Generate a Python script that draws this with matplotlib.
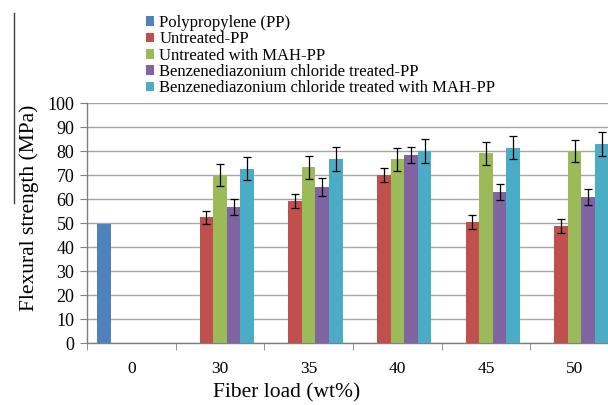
import matplotlib
matplotlib.use("Agg")
import matplotlib.pyplot as plt
import numpy as np
from matplotlib.patches import Patch
from matplotlib.lines import Line2D

categories = ["0", "30", "35", "40", "45", "50"]
series_names = ["Polypropylene (PP)", "Untreated-PP", "Untreated with MAH-PP",
                "Benzenediazonium chloride treated-PP",
                "Benzenediazonium chloride treated with MAH-PP"]
pp = [49.5, np.nan, np.nan, np.nan, np.nan, np.nan]
untreated = [np.nan, 52.3, 59.1, 70.0, 50.4, 48.6]
untreated_mah = [np.nan, 70.0, 73.2, 76.5, 79.0, 80.0]
bdc = [np.nan, 56.8, 65.0, 78.2, 62.8, 60.8]
bdc_mah = [np.nan, 72.6, 76.6, 80.0, 81.4, 83.0]
untreated_err = [0, 2.9, 2.9, 3.0, 3.0, 2.9]
untreated_mah_err = [0, 4.5, 4.7, 4.7, 4.7, 4.6]
bdc_err = [0, 3.4, 3.6, 3.4, 3.3, 3.2]
bdc_mah_err = [0, 4.7, 4.9, 4.8, 4.8, 4.9]

colors = ["#4F81BD", "#C0504D", "#9BBB59", "#8064A2", "#4BACC6"]
serif = ["Liberation Serif", "DejaVu Serif"]

fig = plt.figure(figsize=(6.08, 4.05), dpi=100)
ax = fig.add_axes([87/608, 1-343/405, 532/608, 240/405])

x = np.arange(len(categories))
w = 0.1535
vals = [pp, untreated, untreated_mah, bdc, bdc_mah]
errs = [None, untreated_err, untreated_mah_err, bdc_err, bdc_mah_err]
for i, (v, e, c) in enumerate(zip(vals, errs, colors)):
    pos = x + (i - 2) * w
    v = np.array(v, dtype=float)
    mask = ~np.isnan(v)
    ax.bar(pos[mask], v[mask], width=w, color=c, zorder=3, linewidth=0)
    if e is not None:
        ax.errorbar(pos[mask], v[mask], yerr=np.array(e)[mask], fmt="none",
                    ecolor="black", elinewidth=0.9, capsize=2.8, capthick=0.9, zorder=4)

ax.set_xlim(-0.5, 5.5)
ax.set_ylim(0, 100)
ax.set_yticks(np.arange(0, 101, 10))
ax.set_xticks(x)
ax.set_xticklabels(categories, fontfamily=serif, fontsize=12.5)
ax.set_xticks(np.arange(-0.5, 5.6, 1), minor=True)
ax.tick_params(axis="x", which="major", length=0, pad=13)
ax.tick_params(axis="x", which="minor", length=5, color="#808080", direction="out")
ax.tick_params(axis="y", length=5, color="#808080", direction="out", pad=4)
for lab in ax.get_yticklabels():
    lab.set_fontfamily(serif)
    lab.set_fontsize(13)
ax.yaxis.grid(True, color="#A6A6A6", linewidth=1.0, zorder=0)
ax.set_axisbelow(True)
for s in ["top", "right"]:
    ax.spines[s].set_visible(False)
for s in ["left", "bottom"]:
    ax.spines[s].set_color("#808080")
    ax.spines[s].set_linewidth(1.0)

fig.text(287/608, 1-393/405, "Fiber load (wt%)", ha="center", va="center",
         fontfamily=serif, fontsize=15.5)
fig.text(29/608, 1-208/405, "Flexural strength (MPa)", ha="center", va="center",
         rotation=90, fontfamily=serif, fontsize=15.5)

handles = [Patch(facecolor=c, edgecolor="none") for c in colors]
leg = fig.legend(handles, series_names, loc="upper left", bbox_to_anchor=(146/608, 1-15/405),
                 frameon=False, prop={"family": serif, "size": 12},
                 handlelength=0.5, handleheight=0.5, handletextpad=0.3,
                 labelspacing=0.02, borderpad=0, borderaxespad=0)

fig.add_artist(Line2D([13.5/608, 13.5/608], [1-13/405, 1-203/405],
                      color="#404040", linewidth=1.0, transform=fig.transFigure))

fig.savefig("out.png", dpi=100)
